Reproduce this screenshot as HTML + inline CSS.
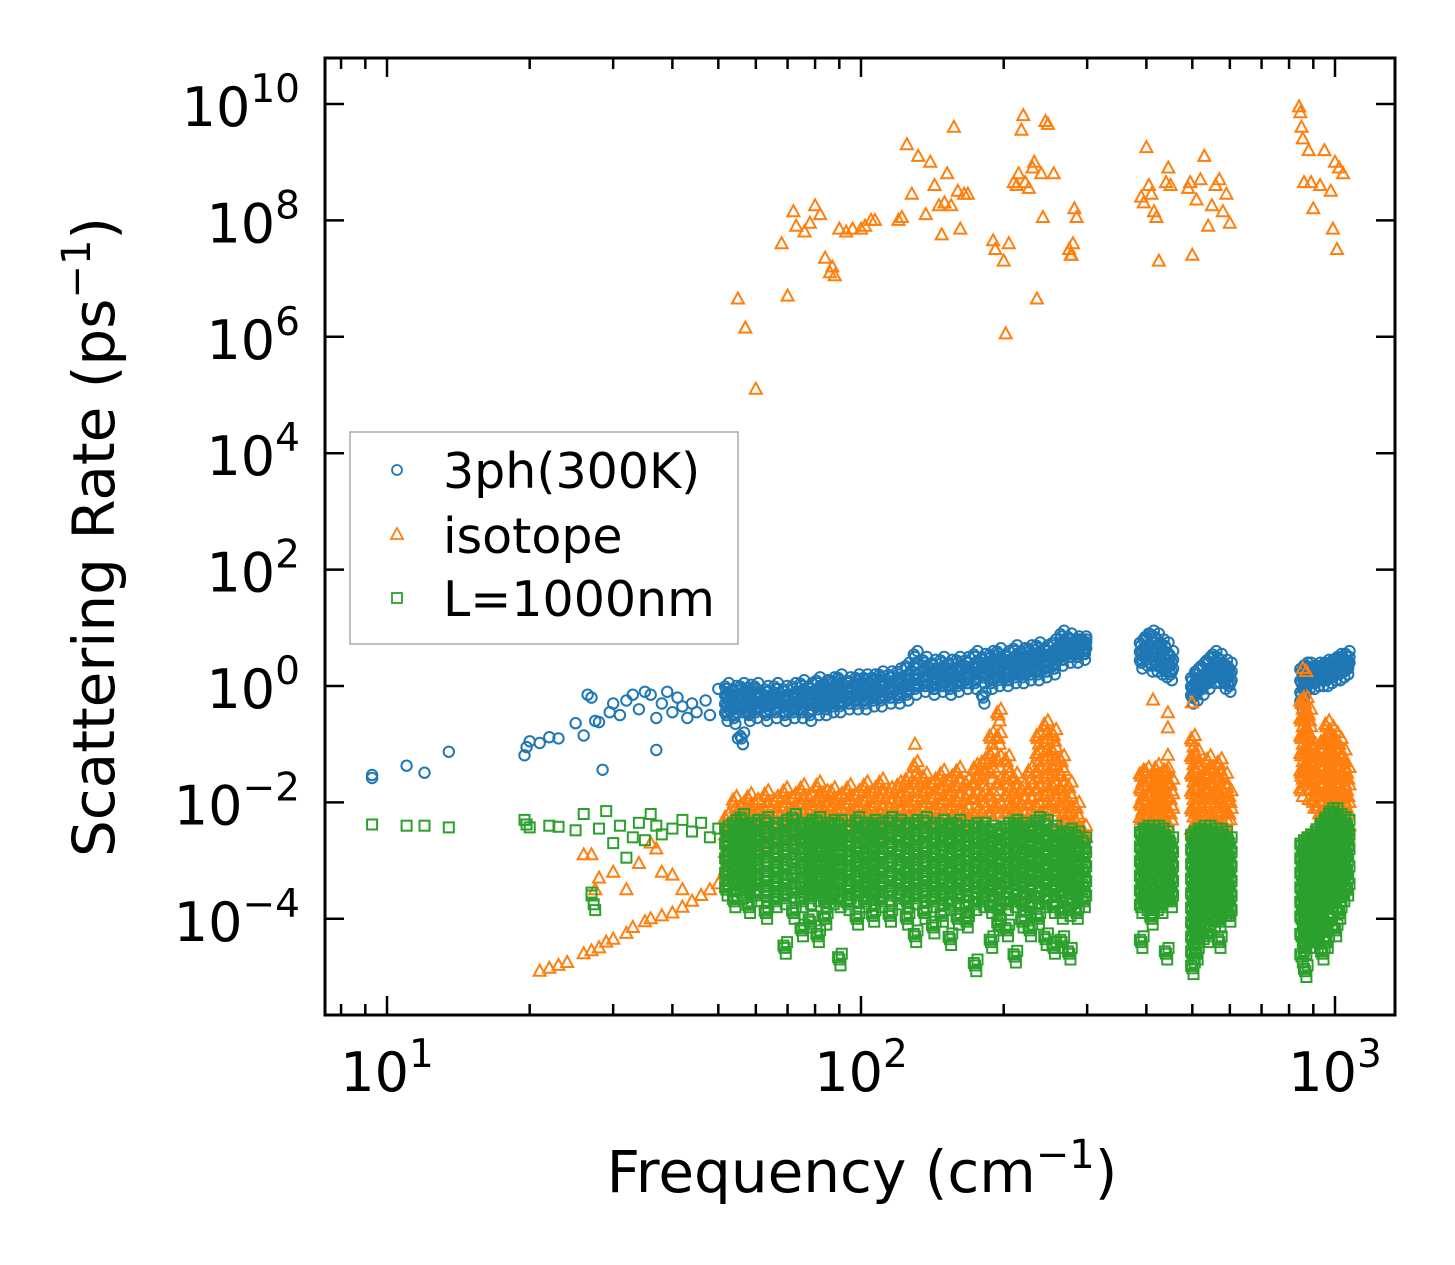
<!DOCTYPE html>
<html><head><meta charset="utf-8"><style>
body{margin:0;background:#fff}
svg{display:block}
text{font-family:"DejaVu Sans","Liberation Sans",sans-serif;fill:#000}
</style></head><body>
<svg id="chart" width="1455" height="1265" viewBox="0 0 1455 1265" xmlns="http://www.w3.org/2000/svg">
<rect x="0" y="0" width="1455" height="1265" fill="#fff"/>
<g id="marks"></g>
<g id="axes"></g>
<text x="862" y="1192" font-size="58" text-anchor="middle">Frequency (cm<tspan font-size="40" dy="-24">−1</tspan><tspan dy="24">)</tspan></text>
<text transform="translate(114,537) rotate(-90)" font-size="58" text-anchor="middle">Scattering Rate (ps<tspan font-size="40" dy="-24">−1</tspan><tspan dy="24">)</tspan></text>
<g>
<rect x="350" y="432" width="388" height="212" fill="#fff" stroke="#aaa" stroke-width="1.5"/>
<circle cx="397" cy="470" r="5" fill="none" stroke="#1f77b4" stroke-width="1.8"/>
<text x="443" y="488" font-size="49">3ph(300K)</text>
<polygon points="397,528 403,539 391,539" fill="none" stroke="#ff7f0e" stroke-width="1.8"/>
<text x="443" y="553" font-size="49">isotope</text>
<rect x="392" y="593" width="10" height="10" fill="none" stroke="#2ca02c" stroke-width="1.8"/>
<text x="443" y="616" font-size="49">L=1000nm</text>
</g>
</svg>
<script>
// ---- data (frequency in cm^-1, rate as log10 exponent) ----
const blueSparseFreq=[9.3,9.3,11,12,13.5,19.5,19.7,20,21,22,23,25,26,26.5,27,27.5,28,28.5,29.5,30,31,32,33,34,35,36,37,37,38,39,40,41,42,43,44,45,47,48,50,55,57];
const blueSparseRate=[-1.53,-1.58,-1.37,-1.49,-1.13,-1.19,-1.05,-0.95,-0.98,-0.88,-0.9,-0.64,-0.85,-0.15,-0.2,-0.6,-0.62,-1.44,-0.45,-0.3,-0.5,-0.25,-0.15,-0.4,-0.1,-0.15,-0.55,-1.1,-0.3,-0.1,-0.45,-0.2,-0.35,-0.55,-0.3,-0.45,-0.25,-0.5,-0.05,-0.9,-0.3];
const mainFreq=[52,54,56,58,60,63,66,69,72,75,78,81,84,87,90,94,98,102,106,110,115,120,125,130,136,142,148,154,160,167,174,181,188,195,203,211,219,227,236,245,255,265,275,285,295];
const blueMainRate=[[-0.05,-0.2,-0.35,-0.5],[-0.1,-0.25,-0.4,-0.55],[-0.05,-0.2,-0.35,-0.9],[-0.08,-0.22,-0.38,-0.5],[-0.05,-0.2,-0.3,-0.45],[-0.1,-0.2,-0.35,-0.5],[-0.05,-0.15,-0.3,-0.45],[-0.1,-0.25,-0.35,-0.5],[-0.05,-0.2,-0.3,-0.45],[0,-0.15,-0.3,-0.45],[-0.05,-0.2,-0.3,-0.5],[0.05,-0.1,-0.25,-0.4],[0,-0.15,-0.3,-0.4],[0.05,-0.1,-0.2,-0.35],[0.1,-0.05,-0.2,-0.35],[0.05,-0.1,-0.2,-0.3],[0.1,0,-0.15,-0.3],[0.1,-0.05,-0.15,-0.3],[0.1,0,-0.1,-0.25],[0.15,0,-0.1,-0.25],[0.15,0.05,-0.1,-0.2],[0.2,0.05,-0.05,-0.2],[0.3,0.1,0,-0.15],[0.5,0.3,0.1,-0.05],[0.4,0.25,0.1,0],[0.35,0.2,0.05,-0.05],[0.4,0.25,0.1,0],[0.35,0.2,0.1,-0.05],[0.4,0.25,0.15,0],[0.4,0.3,0.15,0.05],[0.5,0.3,0.2,0.05],[0.45,0.3,0.15,-0.2],[0.5,0.35,0.2,0.05],[0.55,0.4,0.25,0.1],[0.5,0.35,0.2,0.1],[0.6,0.45,0.3,0.15],[0.55,0.4,0.3,0.15],[0.6,0.45,0.3,0.2],[0.65,0.5,0.35,0.2],[0.6,0.5,0.35,0.25],[0.7,0.55,0.4,0.3],[0.85,0.7,0.55,0.45],[0.8,0.7,0.6,0.5],[0.75,0.7,0.6,0.5],[0.75,0.7,0.65,0.55]];
const orangeMainRate=[[-2.3,-2.6,-2.9,-3.2],[-2.0,-2.3,-2.6,-2.9],[-2.1,-2.35,-2.6,-2.9],[-1.95,-2.2,-2.45,-2.7],[-2.05,-2.3,-2.5,-2.7],[-1.9,-2.15,-2.4,-2.65],[-2.0,-2.25,-2.45,-2.7],[-1.85,-2.1,-2.35,-2.6],[-1.95,-2.2,-2.4,-2.6],[-1.8,-2.05,-2.3,-2.55],[-1.95,-2.2,-2.4,-2.6],[-1.75,-2.0,-2.25,-2.5],[-1.9,-2.15,-2.35,-2.6],[-1.85,-2.1,-2.3,-2.55],[-1.95,-2.2,-2.4,-2.6],[-1.8,-2.05,-2.3,-2.5],[-1.9,-2.15,-2.35,-2.6],[-1.75,-2.0,-2.25,-2.5],[-1.85,-2.1,-2.3,-2.55],[-1.7,-1.95,-2.2,-2.5],[-1.85,-2.1,-2.3,-2.5],[-1.75,-2.0,-2.25,-2.5],[-1.65,-1.9,-2.15,-2.45],[-1.4,-1.7,-2.0,-2.3],[-1.6,-1.85,-2.1,-2.4],[-1.7,-1.95,-2.2,-2.45],[-1.55,-1.8,-2.05,-2.35],[-1.65,-1.9,-2.15,-2.4],[-1.5,-1.75,-2.0,-2.3],[-1.7,-1.95,-2.2,-2.45],[-1.45,-1.7,-1.95,-2.25],[-1.35,-1.6,-1.9,-2.2],[-0.9,-1.2,-1.5,-1.9,-2.2],[-0.5,-0.9,-1.3,-1.7,-2.1],[-1.3,-1.6,-1.9,-2.2],[-1.6,-1.85,-2.1,-2.4],[-1.8,-2.05,-2.3,-2.5],[-1.5,-1.8,-2.05,-2.35],[-0.9,-1.2,-1.5,-1.8,-2.1],[-0.7,-1.0,-1.3,-1.6,-1.9,-2.2],[-0.85,-1.15,-1.45,-1.75,-2.05],[-1.3,-1.55,-1.8,-2.1,-2.4],[-1.75,-2.0,-2.25,-2.5],[-2.1,-2.35,-2.6],[-2.5,-2.7]];
const greenMainRate=[[-2.5,-2.75,-3.0,-3.25,-3.5],[-2.4,-2.65,-2.9,-3.15,-3.4,-3.7],[-2.3,-2.55,-2.8,-3.05,-3.3,-3.55],[-2.45,-2.7,-2.95,-3.2,-3.45,-3.8],[-2.4,-2.65,-2.9,-3.15,-3.4,-3.6],[-2.35,-2.6,-2.85,-3.1,-3.35,-3.6,-3.9],[-2.45,-2.7,-2.95,-3.2,-3.45,-3.7],[-2.4,-2.65,-2.9,-3.15,-3.4,-3.65,-4.5],[-2.3,-2.55,-2.8,-3.05,-3.3,-3.55,-3.9],[-2.45,-2.7,-2.95,-3.2,-3.45,-3.7,-4.2],[-2.4,-2.65,-2.9,-3.15,-3.4,-3.65,-4.05],[-2.35,-2.6,-2.85,-3.1,-3.35,-3.6,-4.3],[-2.45,-2.7,-2.95,-3.2,-3.45,-3.7,-4.0],[-2.4,-2.65,-2.9,-3.15,-3.4,-3.65],[-2.4,-2.65,-2.9,-3.15,-3.4,-3.7,-4.7],[-2.5,-2.75,-3.0,-3.25,-3.5,-3.75],[-2.35,-2.6,-2.85,-3.1,-3.35,-3.6,-4.0],[-2.45,-2.7,-2.95,-3.2,-3.45,-3.7],[-2.4,-2.65,-2.9,-3.15,-3.4,-3.65,-3.95],[-2.45,-2.7,-2.95,-3.2,-3.45,-3.7],[-2.35,-2.6,-2.85,-3.1,-3.35,-3.6,-3.95],[-2.4,-2.65,-2.9,-3.15,-3.4,-3.65],[-2.45,-2.7,-2.95,-3.2,-3.45,-3.7,-4.0],[-2.4,-2.65,-2.9,-3.15,-3.4,-3.65,-4.3],[-2.35,-2.6,-2.85,-3.1,-3.35,-3.6,-3.9],[-2.45,-2.7,-2.95,-3.2,-3.45,-3.7,-4.15],[-2.4,-2.65,-2.9,-3.15,-3.4,-3.65,-3.95],[-2.45,-2.7,-2.95,-3.2,-3.45,-3.75,-4.35],[-2.4,-2.65,-2.9,-3.15,-3.4,-3.65,-4.0],[-2.5,-2.75,-3.0,-3.25,-3.5,-3.8,-4.05],[-2.45,-2.7,-2.95,-3.2,-3.45,-3.75,-4.8],[-2.45,-2.7,-2.95,-3.2,-3.45,-3.7],[-2.5,-2.75,-3.0,-3.25,-3.5,-3.8,-4.4],[-2.55,-2.8,-3.05,-3.3,-3.55,-3.85,-4.1],[-2.45,-2.7,-2.95,-3.2,-3.45,-3.75,-4.2],[-2.4,-2.65,-2.9,-3.15,-3.4,-3.7,-4.65],[-2.45,-2.7,-2.95,-3.2,-3.45,-3.75,-4.05],[-2.5,-2.75,-3.0,-3.25,-3.5,-3.8,-4.2],[-2.35,-2.6,-2.85,-3.1,-3.35,-3.65,-4.0],[-2.4,-2.65,-2.9,-3.15,-3.4,-3.7,-4.35],[-2.5,-2.75,-3.0,-3.25,-3.5,-3.8,-4.5],[-2.6,-2.85,-3.1,-3.35,-3.6,-3.9,-4.4],[-2.55,-2.8,-3.05,-3.3,-3.55,-3.85,-4.6],[-2.6,-2.85,-3.1,-3.35,-3.6,-3.9],[-2.7,-2.95,-3.2,-3.45,-3.7]];
const groupAFreq=[390,400,410,420,430,440,450];
const blueARate=[[0.7,0.55,0.4],[0.8,0.6,0.45],[0.85,0.65,0.35],[0.8,0.6,0.35],[0.7,0.5,0.3],[0.65,0.45,0.25],[0.5,0.35,0.2]];
const orangeARate=[[-1.55,-1.8,-2.05,-2.3],[-1.5,-1.75,-2.0,-2.3],[-1.6,-1.85,-2.1,-2.35],[-1.45,-1.7,-1.95,-2.25],[-1.55,-1.8,-2.05,-2.3],[-1.5,-1.8,-2.05,-2.3],[-1.7,-1.95,-2.2]];
const greenARate=[[-2.55,-2.8,-3.05,-3.3,-3.55,-3.8,-4.4],[-2.5,-2.75,-3.0,-3.25,-3.5,-3.75],[-2.5,-2.75,-3.0,-3.25,-3.5,-3.8,-4.0],[-2.5,-2.75,-3.0,-3.25,-3.5,-3.75],[-2.55,-2.8,-3.05,-3.3,-3.55,-3.8],[-2.6,-2.85,-3.1,-3.35,-3.6,-4.6],[-2.7,-2.95,-3.2,-3.45,-3.7]];
const groupBFreq=[500,510,525,540,555,570,585,598];
const blueBRate=[[0.1,-0.05,-0.2],[0.2,0,-0.15],[0.3,0.1,-0.05],[0.4,0.2,0.05],[0.5,0.3,0.15],[0.45,0.3,0.15],[0.35,0.2,0.05],[0.3,0.15,0]];
const orangeBRate=[[-0.95,-1.25,-1.55,-1.85,-2.15,-2.5],[-1.2,-1.5,-1.8,-2.1,-2.4],[-1.6,-1.85,-2.1,-2.4],[-1.3,-1.55,-1.8,-2.1,-2.4],[-1.45,-1.7,-1.95,-2.25],[-1.35,-1.6,-1.85,-2.1,-2.4],[-1.6,-1.85,-2.1,-2.4],[-1.9,-2.2]];
const greenBRate=[[-2.6,-2.85,-3.1,-3.35,-3.6,-3.85,-4.1,-4.35,-4.6,-4.85],[-2.55,-2.8,-3.05,-3.3,-3.55,-3.8,-4.05,-4.3,-4.6],[-2.5,-2.75,-3.0,-3.25,-3.5,-3.75,-4.0,-4.25],[-2.5,-2.75,-3.0,-3.25,-3.5,-3.75,-4.0,-4.3],[-2.55,-2.8,-3.05,-3.3,-3.55,-3.8,-4.05],[-2.55,-2.8,-3.05,-3.3,-3.55,-3.8,-4.05,-4.4],[-2.6,-2.85,-3.1,-3.35,-3.6,-3.85],[-2.7,-2.95,-3.2,-3.45,-3.7,-3.95]];
const groupCFreq=[850,865,880,900,920,940,960,980,1000,1020,1040,1060];
const blueCRate=[[0.25,0.05,-0.15,-0.3],[0.3,0.15,0],[0.3,0.2,0.05],[0.25,0.15,0.05],[0.3,0.2,0.1],[0.3,0.2,0.1],[0.35,0.25,0.1],[0.35,0.25,0.15],[0.4,0.3,0.2],[0.45,0.35,0.2],[0.45,0.35,0.25],[0.5,0.4,0.3]];
const orangeCRate=[[-0.3,-0.6,-0.9,-1.2,-1.5,-1.8],[-0.3,-0.6,-0.9,-1.2,-1.5],[-0.5,-0.8,-1.1,-1.4,-1.7],[-1.1,-1.4,-1.7,-2.0],[-1.2,-1.5,-1.8,-2.1],[-1.0,-1.3,-1.6,-1.9,-2.2],[-0.7,-1.0,-1.3,-1.6,-1.9,-2.2],[-0.8,-1.1,-1.4,-1.7,-2.0],[-0.9,-1.2,-1.5,-1.8,-2.1],[-1.0,-1.3,-1.6,-1.9,-2.2],[-1.2,-1.5,-1.8,-2.1],[-1.5,-1.8,-2.1,-2.5]];
const greenCRate=[[-2.75,-3.0,-3.25,-3.5,-3.75,-4.0,-4.3,-4.65],[-2.7,-2.95,-3.2,-3.45,-3.7,-3.95,-4.2,-4.5,-4.9],[-2.65,-2.9,-3.15,-3.4,-3.65,-3.9,-4.15,-4.4],[-2.6,-2.85,-3.1,-3.35,-3.6,-3.85,-4.1,-4.4],[-2.5,-2.75,-3.0,-3.25,-3.5,-3.75,-4.0,-4.3],[-2.4,-2.65,-2.9,-3.15,-3.4,-3.65,-3.9,-4.2,-4.6],[-2.3,-2.55,-2.8,-3.05,-3.3,-3.55,-3.8,-4.1,-4.4],[-2.2,-2.45,-2.7,-2.95,-3.2,-3.45,-3.7,-4.0],[-2.2,-2.45,-2.7,-2.95,-3.2,-3.45,-3.7,-4.2],[-2.3,-2.55,-2.8,-3.05,-3.3,-3.6,-3.9],[-2.35,-2.6,-2.85,-3.1,-3.35,-3.6],[-2.4,-2.65,-2.9,-3.2,-3.5]];
const orangeHighFreq=[55,57,60,68,70,72,73,76,78,80,82,84,86,87,88,90,93,96,100,102,105,107,120,122,125,128,132,137,140,143,146,148,150,152,155,157,160,162,165,168,190,192,200,202,205,210,213,215,218,220,222,226,230,232,235,240,242,245,248,255,275,277,278,280,282,285,390,395,400,405,410,415,420,425,440,445,450,490,495,500,510,520,530,540,550,560,570,580,590,600,840,845,850,855,860,880,890,900,930,950,980,990,1000,1010,1020,1040];
const orangeHighRate=[6.65,6.15,5.1,7.6,6.7,8.15,7.9,7.8,7.95,8.25,8.1,7.35,7.1,7.2,7.05,7.85,7.8,7.85,7.85,7.9,8.0,8.0,8.0,8.05,9.3,8.45,9.1,8.1,9.0,8.6,8.25,7.75,8.3,8.8,8.25,9.6,8.5,7.85,8.45,8.45,7.65,7.5,7.3,6.05,7.6,8.65,8.6,8.8,9.55,9.8,8.65,8.55,8.9,9.0,6.65,8.8,8.05,9.7,9.65,8.8,7.5,7.4,7.4,7.6,8.2,8.05,8.4,8.3,9.25,8.6,8.45,8.15,8.05,7.3,8.65,8.9,8.6,8.55,8.65,7.4,8.35,8.7,9.1,7.9,8.25,8.6,8.7,8.15,8.45,7.95,9.95,9.85,9.6,9.4,8.65,9.2,8.65,8.2,8.6,9.2,8.5,7.85,9.0,7.5,8.9,8.8];
const orangeLowFreq=[21,22,23,24,26,27,28,29,30,32,33,35,36,38,40,42,44,46,48,50,26,27,27.5,28,30,32,34,36,37,38,40,42,130,413,444,444,444,444,499,855,870,850,880];
const orangeLowRate=[-4.9,-4.85,-4.8,-4.75,-4.6,-4.55,-4.5,-4.4,-4.35,-4.25,-4.15,-4.05,-4.0,-3.95,-3.9,-3.8,-3.7,-3.6,-3.5,-3.4,-2.9,-2.9,-3.5,-3.3,-3.2,-3.5,-3.05,-2.7,-2.8,-3.2,-3.25,-3.5,-1.0,-0.24,-0.46,-0.72,-1.19,-1.48,-0.29,0.3,0.25,-1.55,-1.95];
const greenSparseFreq=[9.3,11,12,13.5,19.5,19.7,20,22,23,25,26,27,27,27.3,27.5,28,29,30,31,32,33,34,35,36,37,38,40,42,44,46,48,50];
const greenSparseRate=[-2.38,-2.4,-2.4,-2.43,-2.3,-2.38,-2.43,-2.4,-2.42,-2.48,-2.2,-3.55,-3.6,-3.75,-3.85,-2.45,-2.15,-2.7,-2.4,-2.95,-2.6,-2.35,-2.65,-2.2,-2.4,-2.55,-2.45,-2.3,-2.5,-2.35,-2.6,-2.45];

// ---- axes ----
const X0=387, DEC_X=474, Y0=686, DEC_Y=58.2;
const L=325,R=1395,T=58,B=1015;
function xs(f){return X0+(Math.log10(f)-1)*DEC_X;}
function ys(e){return Y0-e*DEC_Y;}
const NS='http://www.w3.org/2000/svg';
const marks=document.getElementById('marks');
const axes=document.getElementById('axes');
function mk(tag,attrs,parent){const el=document.createElementNS(NS,tag);for(const k in attrs)el.setAttribute(k,attrs[k]);parent.appendChild(el);return el;}

function circle(f,e){
  const el=mk('circle',{cx:xs(f).toFixed(1),cy:ys(e).toFixed(1),r:5.2,fill:'none',stroke:'#1f77b4','stroke-width':2},marks);
  
  
}
function tri(f,e){
  const x=xs(f),y=ys(e);
  const el=mk('polygon',{points:`${x.toFixed(1)},${(y-6.5).toFixed(1)} ${(x+6).toFixed(1)},${(y+4.5).toFixed(1)} ${(x-6).toFixed(1)},${(y+4.5).toFixed(1)}`,fill:'none',stroke:'#ff7f0e','stroke-width':2},marks);
  
  
}
function sq(f,e){
  const el=mk('rect',{x:(xs(f)-5).toFixed(1),y:(ys(e)-5).toFixed(1),width:10,height:10,fill:'none',stroke:'#2ca02c','stroke-width':2},marks);
  
  
}
function cols(freqs,rates,fn){freqs.forEach((f,i)=>rates[i].forEach(e=>{fn(f,e);fn(f*1.012,e+0.1);fn(f*1.006,e-0.1);fn(f*0.994,e+0.04);}));}
// blue
blueSparseFreq.forEach((f,i)=>circle(f,blueSparseRate[i]));
cols(mainFreq,blueMainRate,circle);
cols(groupAFreq,blueARate,circle);
cols(groupBFreq,blueBRate,circle);
cols(groupCFreq,blueCRate,circle);
// orange
orangeHighFreq.forEach((f,i)=>tri(f,orangeHighRate[i]));
orangeLowFreq.forEach((f,i)=>tri(f,orangeLowRate[i]));
cols(mainFreq,orangeMainRate,tri);
cols(groupAFreq,orangeARate,tri);
cols(groupBFreq,orangeBRate,tri);
cols(groupCFreq,orangeCRate,tri);
// green
greenSparseFreq.forEach((f,i)=>sq(f,greenSparseRate[i]));
cols(mainFreq,greenMainRate,sq);
cols(groupAFreq,greenARate,sq);
cols(groupBFreq,greenBRate,sq);
cols(groupCFreq,greenCRate,sq);

// frame
const frame=mk('rect',{x:L,y:T,width:R-L,height:B-T,fill:'none',stroke:'#000','stroke-width':3},axes);


// x ticks
const xMajor=[10,100,1000];
const xMajorLabel=['1','2','3'];
for(let d=1;d<=1000;d*=10){for(let m=1;m<10;m++){const f=d*m;const x=xs(f);if(x<L+2||x>R-2)continue;const len=(m===1)?19:11;
  const t1=mk('line',{x1:x,x2:x,y1:B,y2:B-len,stroke:'#000','stroke-width':2.5},axes);
  
  
  const t2=mk('line',{x1:x,x2:x,y1:T,y2:T+len,stroke:'#000','stroke-width':2.5},axes);
  
  
}}
xMajor.forEach((f,i)=>{
  const t=mk('text',{x:xs(f),y:1091,'font-size':54,'text-anchor':'middle'},axes);
  t.innerHTML=`10<tspan font-size="39" dy="-24">${xMajorLabel[i]}</tspan>`;
  
  
});
// y ticks
const yMajor=[-4,-2,0,2,4,6,8,10];
const yMajorLabel=['−4','−2','0','2','4','6','8','10'];
yMajor.forEach((e,i)=>{
  const y=ys(e);
  const a=mk('line',{x1:L,x2:L+19,y1:y,y2:y,stroke:'#000','stroke-width':2.5},axes);
  
  
  const b=mk('line',{x1:R,x2:R-19,y1:y,y2:y,stroke:'#000','stroke-width':2.5},axes);
  
  
  const t=mk('text',{x:300,y:y+22,'font-size':54,'text-anchor':'end'},axes);
  t.innerHTML=`10<tspan font-size="39" dy="-24">${yMajorLabel[i]}</tspan>`;
  
  
});
</script>
</body></html>
